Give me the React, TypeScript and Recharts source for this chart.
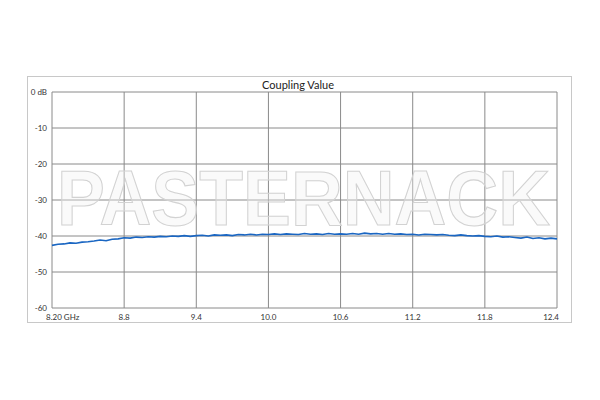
import { CartesianGrid, Line, LineChart, XAxis, YAxis } from "recharts";

const title = "Coupling Value";
const watermark = "PASTERNACK";

const freqs = [
  8.2, 8.25, 8.3, 8.35, 8.4, 8.45, 8.5, 8.55, 8.6, 8.65, 8.7, 8.75, 8.8, 8.85,
  8.9, 8.95, 9.0, 9.05, 9.1, 9.15, 9.2, 9.25, 9.3, 9.35, 9.4, 9.45, 9.5, 9.55,
  9.6, 9.65, 9.7, 9.75, 9.8, 9.85, 9.9, 9.95, 10.0, 10.05, 10.1, 10.15, 10.2,
  10.25, 10.3, 10.35, 10.4, 10.45, 10.5, 10.55, 10.6, 10.65, 10.7, 10.75, 10.8,
  10.85, 10.9, 10.95, 11.0, 11.05, 11.1, 11.15, 11.2, 11.25, 11.3, 11.35, 11.4,
  11.45, 11.5, 11.55, 11.6, 11.65, 11.7, 11.75, 11.8, 11.85, 11.9, 11.95, 12.0,
  12.05, 12.1, 12.15, 12.2, 12.25, 12.3, 12.35, 12.4,
];

const coupling = [
  -42.6, -42.3, -42.2, -41.9, -42.0, -41.7, -41.6, -41.4, -41.1, -41.3, -40.9,
  -40.8, -40.5, -40.6, -40.3, -40.4, -40.2, -40.3, -40.1, -40.2, -40.0, -40.1,
  -39.9, -40.1, -39.9, -39.8, -40.0, -39.7, -39.8, -39.7, -39.9, -39.6, -39.7,
  -39.5, -39.7, -39.5, -39.6, -39.4, -39.6, -39.4, -39.5, -39.6, -39.3, -39.5,
  -39.4, -39.6, -39.3, -39.5, -39.4, -39.5, -39.3, -39.5, -39.2, -39.4, -39.3,
  -39.5, -39.3, -39.5, -39.4, -39.6, -39.5, -39.7, -39.5, -39.6, -39.7, -39.6,
  -39.8, -39.9, -39.7, -39.9, -40.0, -39.9, -40.1, -40.2, -40.0, -40.3, -40.2,
  -40.4, -40.6, -40.3, -40.7, -40.5, -40.8, -40.6, -40.8,
];

const xTicks = [8.2, 8.8, 9.4, 10.0, 10.6, 11.2, 11.8, 12.4];
const xTickLabels = ["8.20 GHz", "8.8", "9.4", "10.0", "10.6", "11.2", "11.8", "12.4"];
const yTicks = [0, -10, -20, -30, -40, -50, -60];
const yTickLabels = ["0 dB", "-10", "-20", "-30", "-40", "-50", "-60"];

const data = freqs.map((f, i) => ({ f, db: coupling[i] }));

const FONT = "Lato, 'Open Sans', sans-serif";

const XTick = (props: any) => {
  const { x, y, payload, index } = props;
  const last = index === xTicks.length - 1;
  const first = index === 0;
  return (
    <text
      x={first ? x - 6 : last ? x + 2 : x}
      y={y + 4}
      textAnchor={first ? "start" : last ? "end" : "middle"}
      fontSize={8}
      fontFamily={FONT}
      fill="#333"
    >
      {xTickLabels[xTicks.indexOf(payload.value)]}
    </text>
  );
};

const YTick = (props: any) => {
  const { y, payload } = props;
  return (
    <text x={47} y={y + 3} textAnchor="end" fontSize={8} fontFamily={FONT} fill="#333">
      {yTickLabels[yTicks.indexOf(payload.value)]}
    </text>
  );
};

export default function App() {
  return (
    <div style={{ position: "absolute", left: 0, top: 0, width: 600, height: 400, background: "#fff" }}>
      <svg width={600} height={400} style={{ position: "absolute", left: 0, top: 0 }}>
        <rect x={27.5} y={76.5} width={544} height={246} fill="#fff" stroke="#c8c8c8" />
        <text x={298} y={89} textAnchor="middle" fontSize={11} fontFamily={FONT} fill="#222">
          {title}
        </text>
      </svg>
      <div style={{ position: "absolute", left: 0, top: 0 }}>
        <LineChart width={600} height={400} data={data} margin={{ top: 92, right: 43, bottom: 72, left: 22 }}>
          <CartesianGrid stroke="#8a8a8a" strokeWidth={1} />
          <XAxis
            dataKey="f"
            type="number"
            domain={[8.2, 12.4]}
            ticks={xTicks}
            axisLine={false}
            tickLine={false}
            height={20}
            tick={<XTick />}
            interval={0}
          />
          <YAxis
            type="number"
            domain={[-60, 0]}
            ticks={yTicks}
            axisLine={false}
            tickLine={false}
            width={30}
            tick={<YTick />}
            interval={0}
          />
          <Line
            type="linear"
            dataKey="db"
            stroke="#1a66c2"
            strokeWidth={1.6}
            dot={false}
            isAnimationActive={false}
          />
        </LineChart>
      </div>
      {/* watermark sits over the grid, lines show through */}
      <svg width={600} height={400} style={{ position: "absolute", left: 0, top: 0, pointerEvents: "none" }}>
        <text
          x={57}
          y={225}
          fontSize={78}
          fontFamily="'Liberation Sans', Arial, sans-serif"
          fontWeight={700}
          textLength={493}
          lengthAdjust="spacingAndGlyphs"
          fill="rgba(240,240,240,0.35)"
          stroke="#d2d2d2"
          strokeWidth={1.1}
        >
          {watermark}
        </text>
      </svg>
    </div>
  );
}
